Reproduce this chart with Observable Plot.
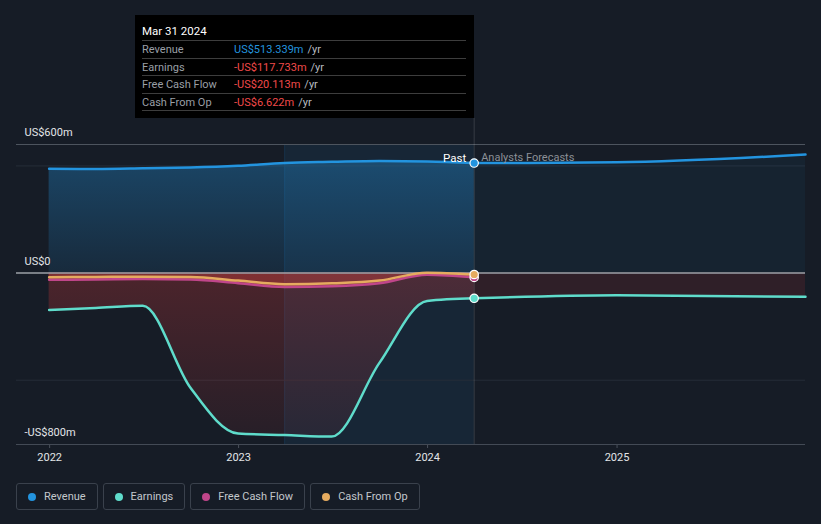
<!DOCTYPE html>
<html>
<head>
<meta charset="utf-8">
<script src="https://cdn.jsdelivr.net/npm/d3@7"></script>
<script src="https://cdn.jsdelivr.net/npm/@observablehq/plot@0.6"></script>
<style>
  html, body { margin: 0; padding: 0; background: #161c26; overflow: hidden; }
  body { font-family: Roboto, "Noto Sans", sans-serif; width: 821px; height: 524px; position: relative; }
  #chart { position: absolute; left: 0; top: 0; }
  #chart svg [aria-label="x-axis tick"] path { stroke: #4a515b; }
  #tip { position: absolute; left: 135px; top: 15px; width: 339px; height: 103px; background: #000; box-sizing: border-box; padding: 0 8px 0 7px; font-size: 11px; }
  #tip .title { color: #fff; height: 26px; line-height: 20px; padding-top: 6px; box-sizing: border-box; border-bottom: 1px solid #3d3d3d; font-size: 11.5px; }
  #tip .row { height: 17.5px; line-height: 17px; border-bottom: 1px solid #3d3d3d; box-sizing: border-box; display: flex; }
  #tip .lab { width: 92px; color: #9a9fa6; }
  #tip .unit { color: #b9bcc1; margin-left: 4px; }
  #legend { position: absolute; left: 16px; top: 483px; display: flex; gap: 5px; }
  #legend .item { height: 27px; box-sizing: border-box; border: 1px solid #3a414c; border-radius: 3px; padding: 0 11px 0 11px; display: flex; align-items: center; color: #c3c7cc; font-size: 11px; }
  #legend .dot { width: 8px; height: 8px; border-radius: 50%; margin-right: 8px; }
</style>
</head>
<body>
<div id="chart"></div>
<div id="tip"></div>
<div id="legend"></div>
<script>
// ---- data ----
const pastDates = ["2021-12-31","2022-03-31","2022-06-30","2022-09-30","2022-12-31","2023-03-31","2023-06-30","2023-09-30","2023-12-31","2024-03-31"];
const revenuePast = [487, 486, 489, 493, 501, 514, 519, 523, 521, 513.339];
const earningsPast = [-172, -163, -153, -535, -749, -756, -763, -419, -130, -117.733];
const fcfPast = [-31, -30, -28, -30, -47, -65, -62, -48, -8, -20.113];
const cfoPast = [-19, -18, -17, -18, -35, -52, -48, -35, 2, -6.622];
const forecastDates = ["2024-03-31","2024-12-31","2025-12-31"];
const revenueForecast = [513.339, 517, 553];
const earningsForecast = [-117.733, -103, -111];
const yTicks = [600, 0, -800];
const faintGrid = [500, -500];
const xDomain = ["2021-10-29", "2025-12-31"];
const highlightRange = ["2023-03-31", "2024-03-31"];
const nowDate = "2024-03-31";
const seriesNames = ["Revenue", "Earnings", "Free Cash Flow", "Cash From Op"];
const seriesColors = ["#2394df", "#5fdccb", "#c0468a", "#e5ab5f"];
const tipTitle = "Mar 31 2024";
const tipValues = ["US$513.339m", "-US$117.733m", "-US$20.113m", "-US$6.622m"];

// ---- build tables ----
const P = d => new Date(d + "T00:00:00Z");
const past = pastDates.map((d, i) => ({date: P(d), revenue: revenuePast[i], earnings: earningsPast[i], fcf: fcfPast[i], cfo: cfoPast[i]}));
const fc = forecastDates.map((d, i) => ({date: P(d), revenue: revenueForecast[i], earnings: earningsForecast[i]}));
const last = past[past.length - 1];
const lastPts = [
  {date: last.date, v: last.fcf, c: seriesColors[2]},
  {date: last.date, v: last.cfo, c: seriesColors[3]},
  {date: last.date, v: last.earnings, c: seriesColors[1]},
  {date: last.date, v: last.revenue, c: seriesColors[0]}
];
const fmtY = d => d === 0 ? "US$0" : (d < 0 ? "-" : "") + "US$" + Math.abs(d) + "m";
const ruleTop = 722;

const defs = () => {
  const g = d3.create("svg:defs");
  const mk = (id, c, a0, a1) => {
    const lg = g.append("linearGradient").attr("id", id).attr("x1", 0).attr("y1", 0).attr("x2", 0).attr("y2", 1);
    lg.append("stop").attr("offset", "0%").attr("stop-color", c).attr("stop-opacity", a0);
    lg.append("stop").attr("offset", "100%").attr("stop-color", c).attr("stop-opacity", a1);
  };
  mk("revGrad", "#2394df", 0.34, 0.12);
  mk("earnGrad", "#e63c3c", 0.26, 0.08);
  return g.node();
};

const chart = Plot.plot({
  width: 821,
  height: 470,
  marginTop: 144,
  marginBottom: 26,
  marginLeft: 16,
  marginRight: 16,
  style: {background: "transparent", color: "#e3e5e8", fontSize: "11px", fontFamily: "Roboto, sans-serif"},
  x: {type: "utc", domain: xDomain.map(P), ticks: d3.utcYear.every(1), tickFormat: "%Y", tickSize: 4, label: null},
  y: {domain: [-800, 600], axis: null},
  marks: [
    defs,
    Plot.rect([highlightRange], {x1: d => P(d[0]), x2: d => P(d[1]), y1: -800, y2: 600, fill: "#2394df", fillOpacity: 0.09}),
    Plot.ruleX([highlightRange[0]], {x: d => P(d), y1: -800, y2: 600, stroke: "#2394df", strokeOpacity: 0.12}),
    Plot.ruleY(faintGrid, {stroke: "#262d38"}),
    Plot.areaY(past, {x: "date", y1: 0, y2: "revenue", fill: "url(#revGrad)", curve: "monotone-x"}),
    Plot.areaY(past, {x: "date", y1: 0, y2: "earnings", fill: "url(#earnGrad)", curve: "monotone-x"}),
    Plot.areaY(past, {x: "date", y1: 0, y2: "fcf", fill: "#e0443f", fillOpacity: 0.35, curve: "monotone-x"}),
    Plot.areaY(fc, {x: "date", y1: 0, y2: "revenue", fill: "#2394df", fillOpacity: 0.06, curve: "monotone-x"}),
    Plot.areaY(fc, {x: "date", y1: 0, y2: "earnings", fill: "#e63c3c", fillOpacity: 0.12, curve: "monotone-x"}),
    Plot.ruleY([600], {stroke: "#4d545e"}),
    Plot.ruleY([-800], {stroke: "#434a55"}),
    Plot.ruleY([0], {stroke: "#9da1a7", strokeWidth: 1.5}),
    Plot.ruleX([nowDate], {x: d => P(d), y1: -800, y2: ruleTop, stroke: "#ffffff", strokeOpacity: 0.14}),
    Plot.lineY(past, {x: "date", y: "fcf", stroke: seriesColors[2], strokeWidth: 2.5, curve: "monotone-x"}),
    Plot.lineY(past, {x: "date", y: "cfo", stroke: seriesColors[3], strokeWidth: 2.5, curve: "monotone-x"}),
    Plot.lineY(past, {x: "date", y: "earnings", stroke: seriesColors[1], strokeWidth: 2.5, curve: "monotone-x"}),
    Plot.lineY(fc, {x: "date", y: "earnings", stroke: seriesColors[1], strokeWidth: 2.5, curve: "monotone-x"}),
    Plot.lineY(past, {x: "date", y: "revenue", stroke: seriesColors[0], strokeWidth: 2.5, curve: "monotone-x"}),
    Plot.lineY(fc, {x: "date", y: "revenue", stroke: seriesColors[0], strokeWidth: 2.5, curve: "monotone-x"}),
    Plot.dot(lastPts, {x: "date", y: "v", fill: "c", stroke: "#ffffff", strokeWidth: 1.2, r: 4.2}),
    Plot.text(yTicks, {y: d => d, text: fmtY, frameAnchor: "left", textAnchor: "start", dx: 8, dy: -12, fill: "#e3e5e8", fontSize: 11}),
    Plot.text(["Past"], {x: () => P(nowDate), text: d => d, frameAnchor: "top", dy: 9, dx: -8, textAnchor: "end", fill: "#ffffff", fontSize: 11.5}),
    Plot.text(["Analysts Forecasts"], {x: () => P(nowDate), text: d => d, frameAnchor: "top", dy: 9, dx: 7, textAnchor: "start", fill: "#8c9096", fontSize: 11})
  ]
});
document.getElementById("chart").appendChild(chart);

// tooltip
const tip = document.getElementById("tip");
let html = `<div class="title">${tipTitle}</div>`;
seriesNames.forEach((n, i) => {
  const col = i === 0 ? "#2394df" : "#f04a4a";
  html += `<div class="row"><span class="lab">${n}</span><span style="color:${col}">${tipValues[i]}</span><span class="unit">/yr</span></div>`;
});
tip.innerHTML = html;

// legend
const leg = document.getElementById("legend");
seriesNames.forEach((n, i) => {
  const it = document.createElement("div");
  it.className = "item";
  it.innerHTML = `<span class="dot" style="background:${seriesColors[i]}"></span><span>${n}</span>`;
  leg.appendChild(it);
});
</script>
</body>
</html>
